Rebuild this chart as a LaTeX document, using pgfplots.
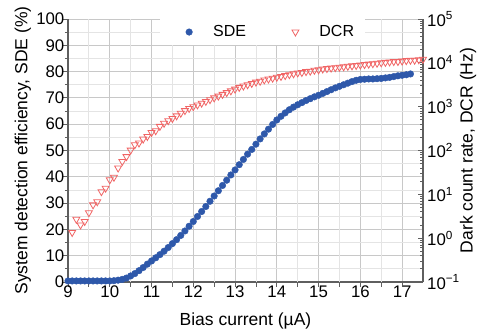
\documentclass[border=0pt]{standalone}
\usepackage{fontspec}
\setmainfont{Liberation Sans}
\usepackage{pgfplots}
\pgfplotsset{compat=1.18}
\usepackage{pgfplotstable}

\definecolor{sdeblue}{RGB}{46,88,170}
\definecolor{dcrred}{RGB}{240,100,100}
\definecolor{gridmajor}{RGB}{200,200,200}
\definecolor{gridminor}{RGB}{228,228,228}
\definecolor{spine}{RGB}{95,95,95}

% System detection efficiency (%) versus bias current (uA)
\pgfplotstableread{
I SDE
9.0 0.4
9.1 0.4
9.2 0.4
9.3 0.4
9.4 0.4
9.5 0.4
9.6 0.4
9.7 0.4
9.8 0.4
9.9 0.4
10.0 0.4
10.1 0.5
10.2 0.7
10.3 1.0
10.4 1.5
10.5 2.3
10.6 3.2
10.7 4.3
10.8 5.5
10.9 6.8
11.0 8.0
11.1 9.2
11.2 10.4
11.3 11.7
11.4 13.1
11.5 14.6
11.6 16.1
11.7 17.7
11.8 19.4
11.9 21.2
12.0 23.0
12.1 24.9
12.2 26.8
12.3 28.7
12.4 30.7
12.5 32.7
12.6 34.7
12.7 36.7
12.8 38.7
12.9 40.7
13.0 42.6
13.1 44.6
13.2 46.6
13.3 48.6
13.4 50.4
13.5 52.4
13.6 54.4
13.7 56.3
13.8 58.1
13.9 59.9
14.0 61.6
14.1 63.0
14.2 64.3
14.3 65.5
14.4 66.5
14.5 67.4
14.6 68.2
14.7 69.0
14.8 69.7
14.9 70.4
15.0 71.0
15.1 71.7
15.2 72.4
15.3 73.1
15.4 73.8
15.5 74.4
15.6 75.0
15.7 75.6
15.8 76.2
15.9 76.7
16.0 77.0
16.1 77.1
16.2 77.2
16.3 77.2
16.4 77.3
16.5 77.4
16.6 77.6
16.7 77.8
16.8 78.1
16.9 78.4
17.0 78.6
17.1 78.8
17.2 79.1
}\sdetable

% Dark count rate (Hz) versus bias current (uA)
\pgfplotstableread{
I DCR
9.1 1.35
9.2 2.69
9.3 2.00
9.4 2.40
9.5 3.80
9.6 5.75
9.7 6.76
9.8 11.5
9.9 13.8
10.0 21.4
10.1 24.5
10.2 39.8
10.3 56.2
10.4 72.4
10.5 102
10.6 135
10.7 148
10.8 182
10.9 209
11.0 257
11.1 282
11.2 355
11.3 417
11.4 479
11.5 537
11.6 617
11.7 708
11.8 813
11.9 912
12.0 1000
12.1 1096
12.2 1202
12.3 1318
12.4 1445
12.5 1585
12.6 1738
12.7 1905
12.8 2089
12.9 2291
13.0 2512
13.1 2754
13.2 2951
13.3 3162
13.4 3388
13.5 3631
13.6 3802
13.7 4074
13.8 4266
13.9 4467
14.0 4677
14.1 4898
14.2 5129
14.3 5370
14.4 5623
14.5 5888
14.6 6026
14.7 6310
14.8 6457
14.9 6761
15.0 6918
15.1 7244
15.2 7413
15.3 7586
15.4 7762
15.5 7943
15.6 8128
15.7 8318
15.8 8511
15.9 8710
16.0 8913
16.1 9120
16.2 9333
16.3 9550
16.4 9772
16.5 10000
16.6 10233
16.7 10471
16.8 10715
16.9 10715
17.0 10965
17.1 11220
17.2 11482
17.3 11482
17.4 11749
17.5 12023
}\dcrtable

\begin{document}
\begin{tikzpicture}
\pgfplotsset{
  every axis/.append style={font=\fontsize{17.5}{21}\selectfont},
  every tick label/.append style={font=\fontsize{16.8}{20}\selectfont},
}
\path[use as bounding box] (-68pt,-49pt) rectangle (414pt,282pt);

% left axis: detection efficiency, linear
\begin{axis}[
  scale only axis, width=355pt, height=263pt,
  at={(0,0)}, anchor=south west,
  xmin=9, xmax=17.5, ymin=0, ymax=100,
  axis x line*=bottom, axis y line*=left,
  axis line style={-, spine, line width=1.3pt},
  xtick={9,...,17},
  extra x ticks={9.5,10.5,...,16.5},
  extra x tick labels={},
  extra x tick style={major grid style={gridminor, line width=0.8pt}},
  ytick={0,10,...,100},
  minor ytick={5,15,...,95},
  tick align=outside,
  major tick length=5pt, minor tick length=3pt,
  tick style={spine, line width=0.8pt},
  grid=both,
  major grid style={gridmajor, line width=0.8pt},
  minor grid style={gridminor, line width=0.8pt},
  /pgf/number format/assume math mode=true,
  xticklabel style={inner sep=1pt, yshift=2pt},
  yticklabel style={inner sep=1pt, xshift=2.5pt},
  xlabel={Bias current (µA)},
  ylabel={System detection efficiency, SDE (\%)},
  xlabel style={at={(axis description cs:0.5,-0.147)}, anchor=center},
  ylabel style={at={(axis description cs:-0.127,0.5)}, anchor=center},
  legend columns=2,
  legend image code/.code={%
    \path[draw=none, fill=none] (-18pt,-6pt) rectangle (24pt,6pt);
    \draw[#1] plot coordinates {(0pt,0pt)};},
  legend style={at={(axis description cs:0.259,1)}, anchor=north west,
    draw=none, fill=white, inner xsep=11pt, inner ysep=6.5pt,
    font=\fontsize{16}{19}\selectfont,
    nodes={inner xsep=0pt, inner ysep=0pt},
    /tikz/every even column/.append style={column sep=31.4pt}},
]
\addplot[only marks, mark=*, mark size=3.3pt, color=sdeblue,
  mark options={draw=sdeblue, fill=sdeblue}] table[x=I, y=SDE] {\sdetable};
\addlegendentry{SDE}
\addlegendimage{only marks, mark=triangle, mark size=4pt, color=dcrred,
  mark options={rotate=180, line width=0.8pt}}
\addlegendentry{DCR}
\end{axis}

% right axis: dark count rate, logarithmic
\begin{axis}[
  scale only axis, width=355pt, height=263pt,
  at={(0,0)}, anchor=south west,
  xmin=9, xmax=17.5,
  ymode=log, ymin=0.1, ymax=1e5,
  axis x line=none, axis y line*=right,
  axis line style={-, spine, line width=1.3pt},
  ytick={0.1,1,10,100,1000,10000,100000},
  yticklabels={10\textsuperscript{−1},10\textsuperscript{0},10\textsuperscript{1},10\textsuperscript{2},10\textsuperscript{3},10\textsuperscript{4},10\textsuperscript{5}},
  minor ytick={0.2,0.3,0.4,0.5,0.6,0.7,0.8,0.9,2,3,4,5,6,7,8,9,20,30,40,50,60,70,80,90,200,300,400,500,600,700,800,900,2000,3000,4000,5000,6000,7000,8000,9000,20000,30000,40000,50000,60000,70000,80000,90000},
  tick align=inside,
  major tick length=5pt, minor tick length=3pt,
  tick style={spine, line width=0.8pt},
  yticklabel style={inner sep=1pt, xshift=3pt},
  ylabel={Dark count rate, DCR (Hz)},
  ylabel style={at={(axis description cs:1.127,0.5)}, anchor=center},
]
\addplot[only marks, mark=triangle, mark size=4pt, color=dcrred,
  mark options={rotate=180, line width=0.8pt}] table[x=I, y=DCR] {\dcrtable};
\end{axis}
\end{tikzpicture}
\end{document}
